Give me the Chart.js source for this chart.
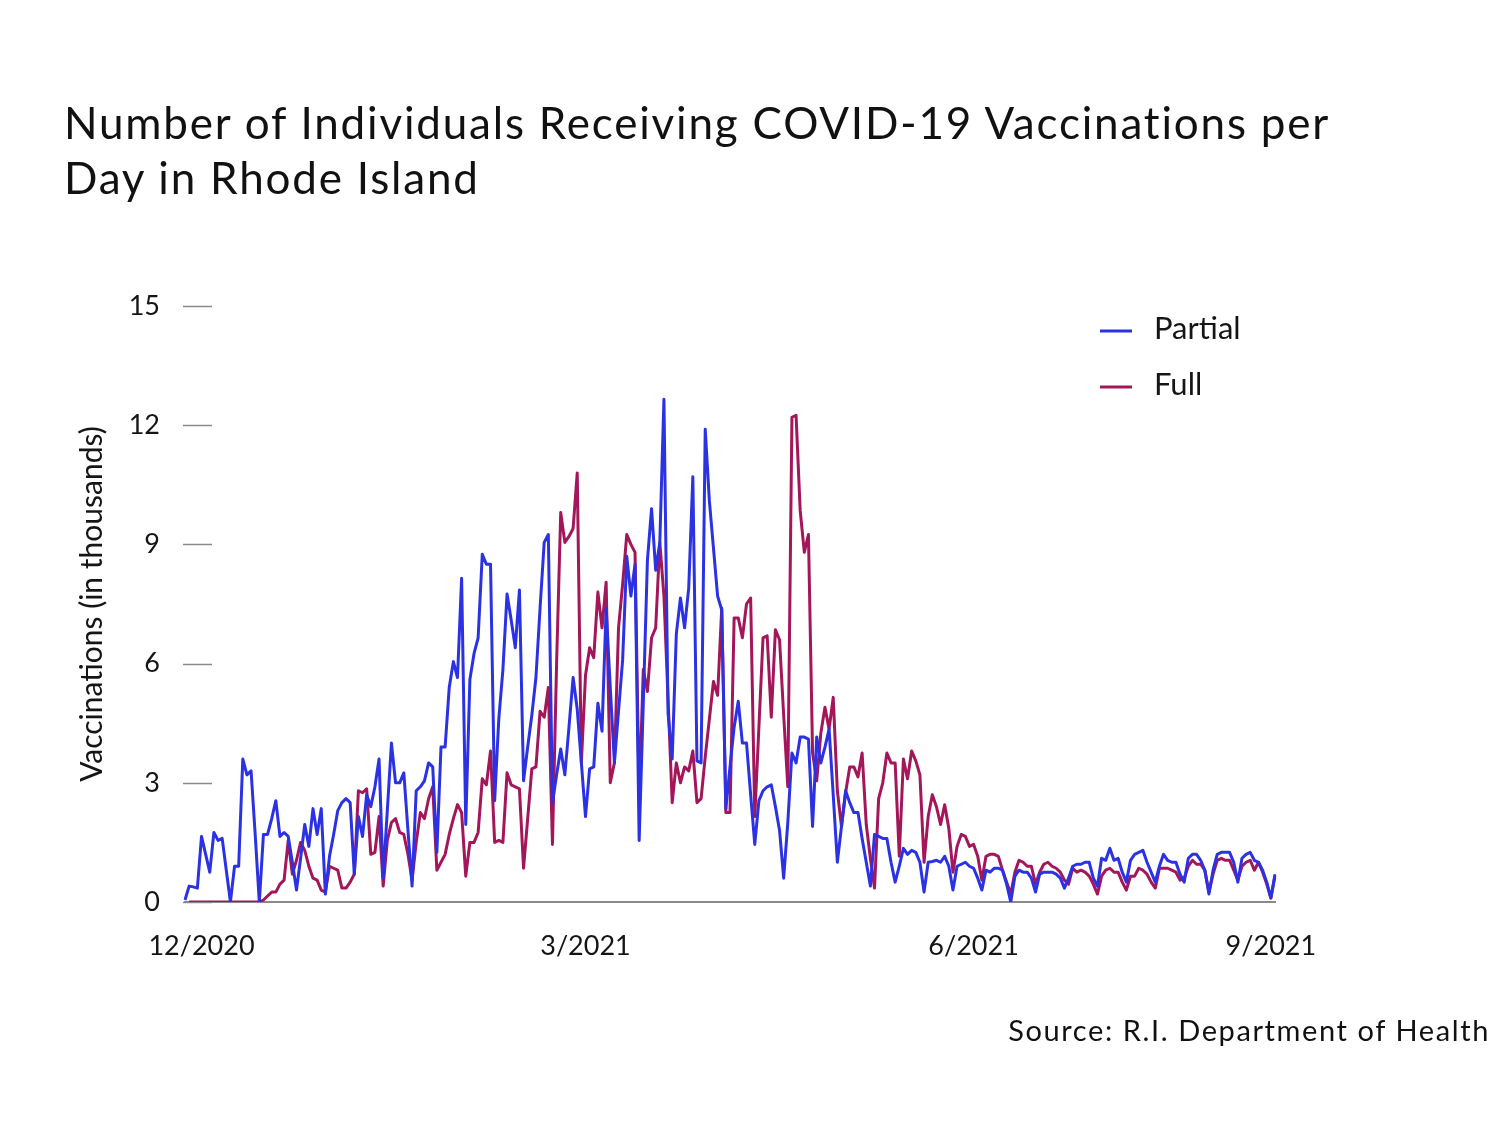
<!DOCTYPE html>
<html>
<head>
<meta charset="utf-8">
<title>RI COVID-19 vaccinations per day</title>
<script src="https://cdn.jsdelivr.net/npm/chart.js@4.4.1/dist/chart.umd.min.js"></script>
<style>
  html, body { margin: 0; padding: 0; background: #fff; }
  body { width: 1500px; height: 1125px; position: relative; overflow: hidden;
         font-family: Lato, 'Noto Sans', sans-serif; color: #111; }
  #wrap { position: absolute; left: 0; top: 0; width: 1500px; height: 1125px; }
  #title { position: absolute; left: 64px; top: 95px; margin: 0;
           font-size: 44px; line-height: 55px; font-weight: normal; letter-spacing: 1.8px; }
  #source { position: absolute; right: 10px; top: 1012px; font-size: 29px; line-height: 36px;
            letter-spacing: 1.6px; }
</style>
</head>
<body>
<div id="wrap"><canvas id="vaxChart"></canvas></div>
<h1 id="title">Number of Individuals Receiving COVID-19 Vaccinations per<br>Day in Rhode Island</h1>
<div id="source">Source: R.I. Department of Health</div>

<script>
// ---- data, thousands of people per day ----
const startDay = '2020-12-14';

const partial = [
  0.05, 0.4, 0.38, 0.35, 1.65, 1.2, 0.75, 1.75, 1.55, 1.6,
  0.8, 0.0, 0.9, 0.9, 3.6, 3.2, 3.3, 1.7, 0.0, 1.7,
  1.7, 2.1, 2.55, 1.65, 1.75, 1.65, 1.0, 0.3, 1.1, 1.95,
  1.4, 2.35, 1.7, 2.35, 0.2, 1.15, 1.7, 2.3, 2.5, 2.6,
  2.5, 0.7, 2.15, 1.65, 2.7, 2.4, 2.9, 3.6, 0.6, 2.3,
  4.0, 3.0, 3.0, 3.25, 1.8, 0.4, 2.8, 2.9, 3.05, 3.5,
  3.4, 1.25, 3.9, 3.9, 5.4, 6.05, 5.65, 8.15, 1.95, 5.6,
  6.25, 6.65, 8.75, 8.5, 8.5, 2.55, 4.6, 5.85, 7.75, 7.1,
  6.4, 7.85, 3.05, 3.9, 4.7, 5.65, 7.4, 9.05, 9.25, 2.5,
  3.2, 3.85, 3.2, 4.4, 5.65, 4.85, 3.5, 2.15, 3.35, 3.4,
  5.0, 4.3, 7.4, 5.4, 3.5, 4.8, 6.1, 8.7, 7.7, 8.5,
  1.55, 5.0, 8.6, 9.9, 8.35, 9.05, 12.65, 4.75, 3.6, 6.75,
  7.65, 6.9, 7.9, 10.7, 3.55, 3.5, 11.9, 10.1, 8.9, 7.7,
  7.35, 2.35, 3.4, 4.4, 5.05, 4.0, 4.0, 2.7, 1.45, 2.55,
  2.8, 2.9, 2.95, 2.4, 1.8, 0.6, 2.0, 3.75, 3.5, 4.15,
  4.15, 4.1, 1.9, 4.15, 3.5, 3.9, 4.35, 2.7, 1.0, 1.9,
  2.8, 2.5, 2.25, 2.25, 1.6, 1.0, 0.4, 1.7, 1.65, 1.6,
  1.6, 1.0, 0.5, 0.9, 1.35, 1.2, 1.3, 1.25, 1.0, 0.25,
  1.0, 1.02, 1.05, 1.0, 1.15, 0.9, 0.3, 0.9, 0.95, 1.0,
  0.9, 0.85, 0.6, 0.3, 0.8, 0.75, 0.85, 0.85, 0.8, 0.45,
  0.0, 0.65, 0.8, 0.75, 0.75, 0.6, 0.25, 0.7, 0.75, 0.75,
  0.75, 0.7, 0.6, 0.35, 0.6, 0.9, 0.95, 0.95, 1.0, 1.0,
  0.6, 0.4, 1.1, 1.05, 1.35, 1.05, 1.1, 0.75, 0.5, 1.05,
  1.2, 1.25, 1.3, 1.0, 0.75, 0.5, 0.9, 1.2, 1.05, 1.0,
  1.0, 0.7, 0.5, 1.1, 1.2, 1.2, 1.05, 0.8, 0.2, 0.8,
  1.2, 1.25, 1.25, 1.25, 1.0, 0.5, 1.1, 1.2, 1.25, 1.05,
  1.0, 0.8, 0.5, 0.1, 0.7
];

const full = [
  null, 0, 0, 0, 0, 0, 0, 0, 0, 0,
  0, 0, 0, 0, 0, 0, 0, 0, 0, 0.05,
  0.15, 0.25, 0.25, 0.45, 0.55, 1.55, 0.7, 1.05, 1.5, 1.3,
  0.9, 0.6, 0.55, 0.3, 0.25, 0.9, 0.85, 0.8, 0.35, 0.35,
  0.5, 0.7, 2.8, 2.75, 2.85, 1.2, 1.25, 2.15, 0.4, 1.55,
  2.0, 2.1, 1.75, 1.7, 1.2, 0.55, 1.5, 2.25, 2.1, 2.6,
  2.9, 0.8, 1.0, 1.2, 1.7, 2.1, 2.45, 2.25, 0.65, 1.5,
  1.5, 1.75, 3.1, 2.95, 3.8, 1.5, 1.55, 1.5, 3.25, 2.95,
  2.9, 2.85, 0.85, 2.1, 3.35, 3.4, 4.8, 4.65, 5.4, 1.45,
  6.0, 9.8, 9.05, 9.2, 9.4, 10.8, 3.5, 5.7, 6.4, 6.15,
  7.8, 6.9, 8.05, 3.0, 3.5, 6.9, 8.0, 9.25, 9.0, 8.8,
  2.6, 5.85, 5.3, 6.65, 6.9, 9.05, 7.7, 5.1, 2.5, 3.5,
  3.0, 3.4, 3.3, 3.8, 2.5, 2.6, 3.65, 4.6, 5.55, 5.2,
  7.4, 2.25, 2.25, 7.15, 7.15, 6.65, 7.5, 7.65, 2.15, 4.4,
  6.65, 6.7, 4.65, 6.85, 6.6, 4.7, 2.9, 12.2, 12.25, 9.85,
  8.8, 9.25, 3.75, 3.05, 4.25, 4.9, 4.35, 5.15, 2.8, 1.9,
  2.75, 3.4, 3.4, 3.15, 3.75, 1.95, 1.1, 0.35, 2.6, 3.0,
  3.75, 3.5, 3.5, 1.15, 3.6, 3.1, 3.8, 3.55, 3.2, 1.0,
  2.15, 2.7, 2.4, 1.95, 2.45, 1.85, 0.75, 1.4, 1.7, 1.65,
  1.4, 1.45, 1.15, 0.55, 1.15, 1.2, 1.2, 1.15, 0.8, 0.5,
  0.2, 0.75, 1.05, 1.0, 0.9, 0.9, 0.45, 0.75, 0.95, 1.0,
  0.9, 0.85, 0.75, 0.55, 0.45, 0.85, 0.75, 0.8, 0.75, 0.65,
  0.45, 0.2, 0.65, 0.8, 0.85, 0.75, 0.75, 0.5, 0.3, 0.65,
  0.65, 0.85, 0.8, 0.7, 0.5, 0.35, 0.85, 0.85, 0.85, 0.8,
  0.75, 0.55, 0.6, 0.9, 1.05, 0.95, 0.95, 0.8, 0.25, 0.7,
  1.05, 1.1, 1.05, 1.05, 0.8, 0.55, 0.9, 1.0, 1.05, 0.8,
  1.0, 0.75, 0.45, 0.1, 0.65
];

// x axis labels as printed on the graphic, and the day they sit under
const xTickLabels = ['12/2020', '3/2021', '6/2021', '9/2021'];
const xTickDays = [4, 97, 191, 263];

const yTicks = [0, 3, 6, 9, 12, 15];

// daily category labels
const days = [];
const d0 = new Date(startDay + 'T12:00:00');
for (let i = 0; i < partial.length; i++) {
    const d = new Date(d0);
    d.setDate(d0.getDate() + i);
    days.push((d.getMonth() + 1) + '/' + d.getDate() + '/' + d.getFullYear());
}

const textColor = '#151515';
const blue = '#2a32e4';
const wine = '#a31659';

// ---- short dash next to each y tick value ----
const yDashes = {
    id: 'yDashes',
    beforeDatasetsDraw(chart) {
        const { ctx, chartArea, scales: { y } } = chart;
        ctx.save();
        ctx.strokeStyle = '#8a8a8a';
        ctx.lineWidth = 1.5;
        y.ticks.forEach(t => {
            const py = Math.round(y.getPixelForValue(t.value)) + 0.5;
            ctx.beginPath();
            ctx.moveTo(chartArea.left - 2, py);
            ctx.lineTo(chartArea.left + 27, py);
            ctx.stroke();
        });
        ctx.restore();
    }
};

// ---- legend stacked inside the top right of the plot ----
const stackedLegend = {
    id: 'stackedLegend',
    afterDraw(chart, args, opts) {
        const ctx = chart.ctx;
        ctx.save();
        ctx.font = opts.font;
        ctx.textBaseline = 'middle';
        chart.data.datasets.forEach((ds, k) => {
            const y = opts.top + k * opts.rowGap;
            ctx.strokeStyle = ds.borderColor;
            ctx.lineWidth = 3;
            ctx.beginPath();
            ctx.moveTo(opts.left, y + 2);
            ctx.lineTo(opts.left + 32, y + 2);
            ctx.stroke();
            ctx.fillStyle = textColor;
            ctx.fillText(ds.label, opts.left + 54, y);
        });
        ctx.restore();
    }
};

const ctxVax = document.getElementById('vaxChart').getContext('2d');
const vaxChart = new Chart(ctxVax, {
    type: 'line',
    data: {
        labels: days,
        datasets: [
            {
                label: 'Partial',
                data: partial,
                borderColor: blue,
                borderWidth: 3,
                pointRadius: 0,
                tension: 0,
                borderJoinStyle: 'round'
            },
            {
                label: 'Full',
                data: full,
                borderColor: wine,
                borderWidth: 3,
                pointRadius: 0,
                tension: 0,
                borderJoinStyle: 'round'
            }
        ]
    },
    options: {
        responsive: true,
        maintainAspectRatio: false,
        animation: false,
        layout: {
            padding: { left: 74, right: 225, top: 306, bottom: 163 }
        },
        plugins: {
            legend: { display: false },
            tooltip: { enabled: false },
            stackedLegend: {
                left: 1100,
                top: 329,
                rowGap: 56,
                font: '31px Lato, "Noto Sans", sans-serif'
            }
        },
        scales: {
            x: {
                grid: { display: true, drawOnChartArea: false, drawTicks: false },
                border: { display: true, color: '#8a8a8a', width: 2 },
                afterFit(scale) { scale.height = 60; },
                ticks: {
                    autoSkip: false,
                    maxRotation: 0,
                    minRotation: 0,
                    padding: 28,
                    color: textColor,
                    font: { family: 'Lato', size: 27 },
                    callback: function (value, index) {
                        const k = xTickDays.indexOf(index);
                        return k >= 0 ? xTickLabels[k] : '';
                    }
                }
            },
            y: {
                min: 0,
                max: 15,
                grid: { display: false },
                border: { display: false },
                afterFit(scale) { scale.width = 111; },
                afterBuildTicks(scale) {
                    scale.ticks = yTicks.map(v => ({ value: v }));
                },
                ticks: {
                    padding: 17,
                    color: textColor,
                    font: { family: 'Lato', size: 27 }
                },
                title: {
                    display: true,
                    text: 'Vaccinations (in thousands)',
                    color: textColor,
                    font: { family: 'Lato', size: 30 },
                    padding: { top: 0, bottom: 0 }
                }
            }
        }
    },
    plugins: [yDashes, stackedLegend]
});
</script>
</body>
</html>
